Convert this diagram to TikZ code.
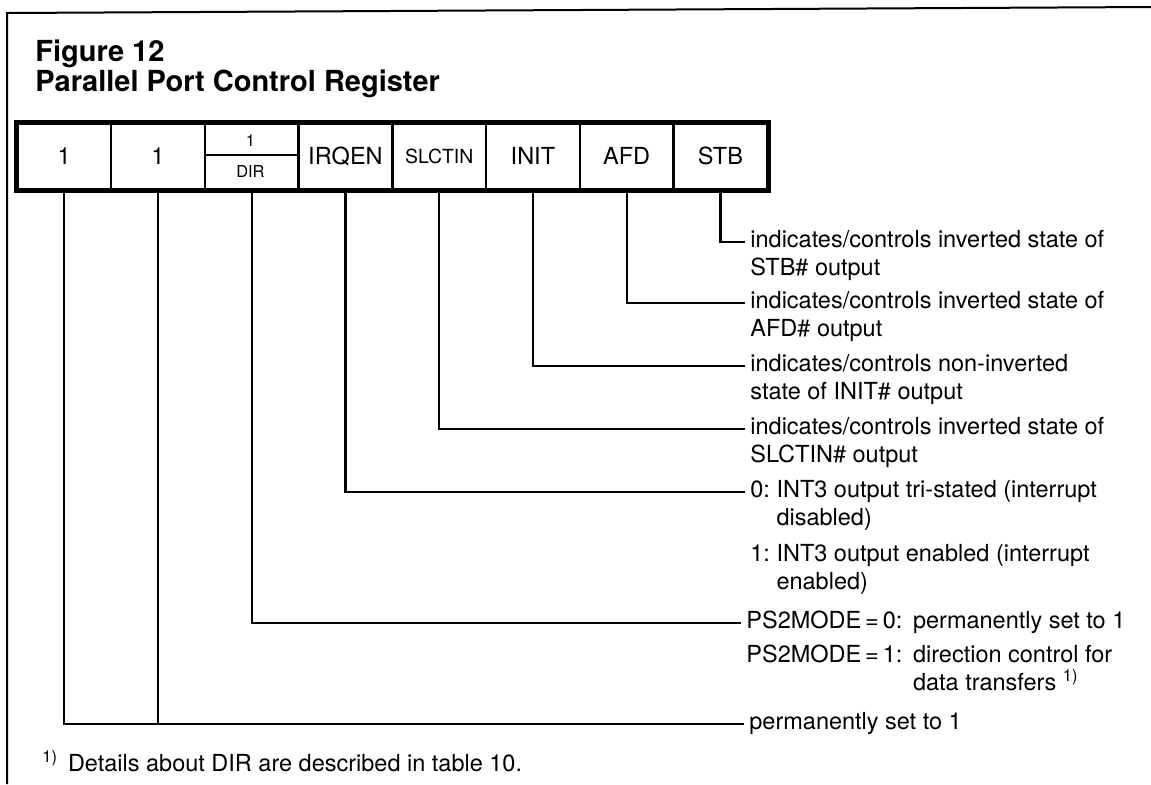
\documentclass[tikz,border=0pt]{standalone}
\usepackage{fontspec}
\setmainfont{TeX Gyre Heros}
\begin{document}
\begin{tikzpicture}[x=0.5pt,y=-0.5pt,
  body/.style={font=\fontsize{11.75}{14}\selectfont, inner sep=0pt, anchor=base west},
  ttl/.style={font=\fontsize{14.5}{17}\selectfont\bfseries, inner sep=0pt, anchor=base west},
  cell/.style={draw, line width=1.3pt, minimum width=46.875pt, minimum height=33pt, inner sep=0pt, anchor=north west, font=\fontsize{11.75}{14}\selectfont},
  small/.style={font=\fontsize{8.2}{10}\selectfont, inner sep=0pt},
  conn/.style={line width=1.1pt, shorten >=2.5pt},
  frame/.style={line width=1pt}]
\useasboundingbox (0,0) rectangle (1151,784);
% frame
\draw[frame] (7,784) -- (7,13) -- (1151,7);
% title
\node[ttl] (fig) at (35,61) {Figure 12};
\node[ttl] (title) at (35,91) {Parallel Port Control Register};
% register cells
\node[cell] (b1) at (16,122) {1};
\node[cell] (b2) at (109.75,122) {1};
\node[cell] (b3) at (203.5,122) {};
\node[cell] (b4) at (297.25,122) {IRQEN};
\node[cell, font=\fontsize{9.7}{12}\selectfont] (b5) at (391,122) {SLCTIN};
\node[cell] (b6) at (484.75,122) {INIT};
\node[cell] (b7) at (578.5,122) {AFD};
\node[cell] (b8) at (672.25,122) {STB};
\draw[line width=1.1pt] (203.5,155) -- (297.25,155);
\node[small] (b3a) at (250.4,141) {1};
\node[small] (b3b) at (250.4,172) {DIR};
\draw[line width=2pt] (b1.north west) rectangle (b8.south east);
% descriptions
\node[body] (tSTB) at (750,247) {indicates/controls inverted state of};
\node[body] (tSTBb) at (750,275) {STB\# output};
\node[body] (tAFD) at (750,308) {indicates/controls inverted state of};
\node[body] (tAFDb) at (750,336) {AFD\# output};
\node[body] (tINIT) at (750,371) {indicates/controls non-inverted};
\node[body] (tINITb) at (750,399) {state of INIT\# output};
\node[body] (tSLC) at (750,434) {indicates/controls inverted state of};
\node[body] (tSLCb) at (750,462) {SLCTIN\# output};
\node[body] (tIRQ) at (750,497) {0:\ INT3 output tri-stated (interrupt};
\node[body] (tIRQb) at (750,525) {\phantom{0:\ }disabled)};
\node[body] (tIRQc) at (750,561) {1:\ INT3 output enabled (interrupt};
\node[body] (tIRQd) at (750,589) {\phantom{1:\ }enabled)};
\node[body] (tDIR) at (746,628) {PS2MODE\,=\,0:\hspace{0.45em}permanently set to 1};
\node[body] (tDIRb) at (746,662) {PS2MODE\,=\,1:\hspace{0.45em}direction control for};
\node[body] (tDIRc) at (746,690) {\phantom{PS2MODE\,=\,1:\hspace{0.45em}}data transfers \textsuperscript{1)}};
\node[body] (tPERM) at (749,729) {permanently set to 1};
\node[body] (fn) at (42,771) {\textsuperscript{1)}\hspace{5pt}Details about DIR are described in table 10.};
% connectors
\draw[conn] (b8.south) |- (tSTB.mid west);
\draw[conn] (b7.south) |- (tAFD.mid west);
\draw[conn] (b6.south) |- (tINIT.mid west);
\draw[conn] (b5.south) |- (tSLC.mid west);
\draw[conn] (b4.south) |- (tIRQ.mid west);
\draw[conn] (b3.south) |- (tDIR.mid west);
\draw[conn] (b1.south) |- (tPERM.mid west);
\draw[line width=1.1pt] (b2.south) -- (b2.south |- tPERM.mid west);
\end{tikzpicture}
\end{document}
